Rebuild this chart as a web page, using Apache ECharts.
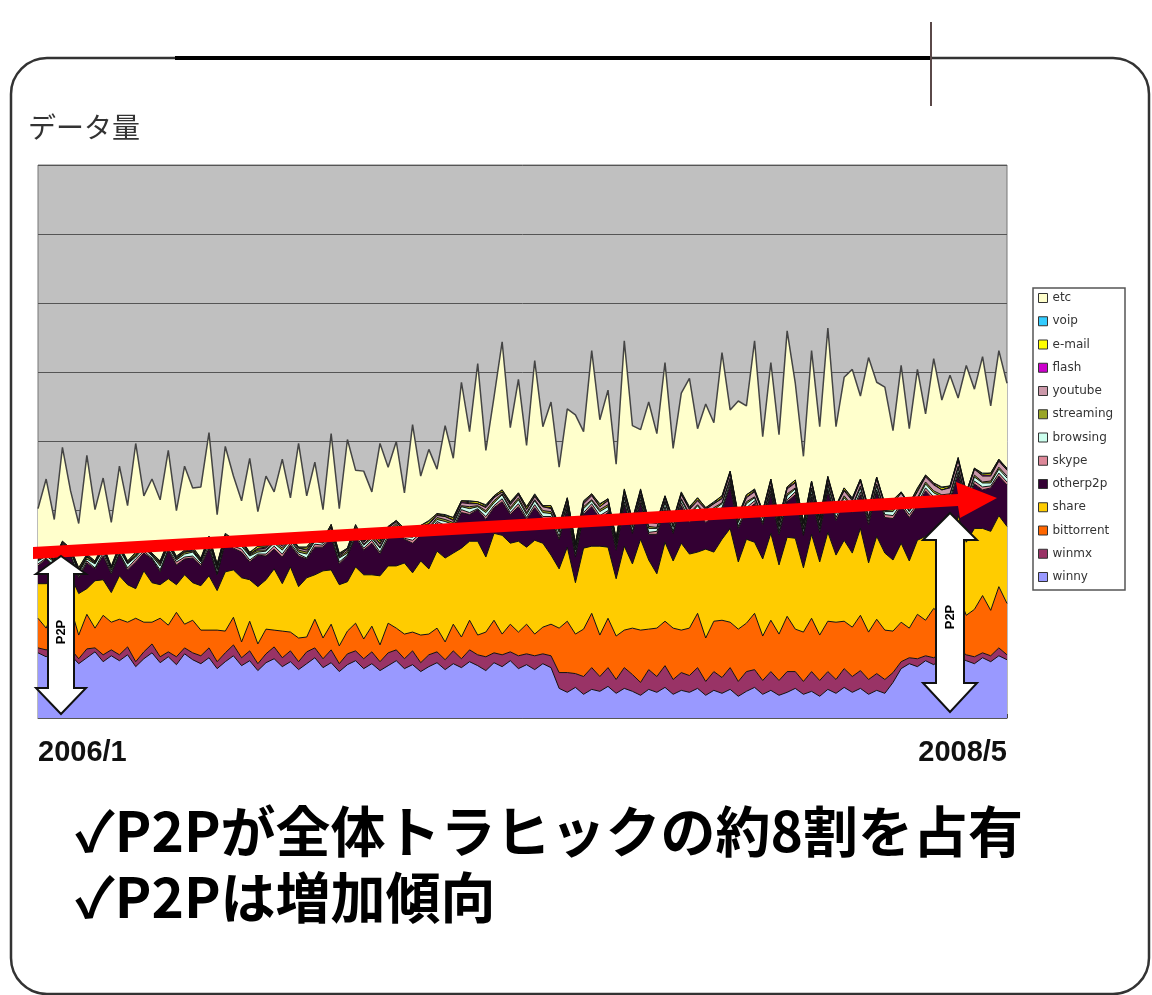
<!DOCTYPE html>
<html>
<head>
<meta charset="utf-8">
<title>データ量</title>
<script src="https://cdn.jsdelivr.net/npm/echarts@6/dist/echarts.min.js"></script>
<style>
  html, body { margin: 0; padding: 0; background: #fff; }
  #chart { width: 1152px; height: 995px; }
</style>
</head>
<body>
<div id="chart"></div>
<script>
// traffic per protocol, one value per sample (2006/1 .. 2008/5), stacked from winny up
const winny = [
  66, 62, 68, 58, 64, 55, 61, 67, 57, 63,
  58, 64, 52, 60, 66, 56, 62, 54, 65, 59,
  55, 61, 50, 57, 63, 53, 58, 48, 56, 60,
  52, 57, 49, 55, 61, 51, 56, 47, 54, 58,
  50, 55, 48, 53, 58, 50, 54, 47, 52, 56,
  49, 55, 51, 57, 53, 48, 56, 52, 58, 50,
  54, 49, 55, 51, 30, 26, 31, 24, 29, 27,
  32, 25, 30, 27, 23, 29, 26, 31, 24, 28,
  26, 30, 23, 28, 25, 29, 22, 27, 31, 24,
  28, 23, 26, 30, 24, 27, 22, 29, 25, 31,
  26, 30, 24, 28, 25, 36, 50, 55, 52, 58,
  54, 60, 56, 62, 58, 55, 61, 57, 63, 59
];
const winmx = [
  5, 7, 4, 8, 6, 5, 9, 4, 7, 6,
  6, 8, 5, 7, 9, 6, 5, 8, 6, 7,
  8, 10, 7, 9, 11, 8, 10, 7, 9, 12,
  9, 11, 8, 12, 10, 9, 13, 8, 11, 10,
  10, 12, 9, 13, 11, 10, 14, 9, 12, 11,
  10, 13, 9, 12, 11, 14, 10, 12, 9, 13,
  11, 14, 10, 12, 16, 20, 14, 18, 22, 15,
  19, 14, 21, 17, 13, 20, 16, 22, 15, 18,
  17, 21, 14, 19, 16, 22, 15, 20, 18, 14,
  19, 15, 21, 17, 13, 20, 16, 18, 14, 19,
  16, 18, 15, 17, 14, 10, 7, 6, 8, 5,
  7, 6, 5, 8, 6, 7, 5, 6, 8, 5
];
const bittorrent = [
  30, 22, 38, 26, 42, 24, 35, 20, 40, 28,
  36, 25, 44, 30, 22, 39, 27, 45, 24, 33,
  26, 18, 32, 22, 28, 16, 30, 20, 25, 17,
  27, 19, 24, 15, 29, 21, 26, 18, 23, 28,
  20, 26, 17, 30, 22, 25, 19, 28, 21, 24,
  18, 27, 22, 30, 20, 25, 33, 21, 28, 24,
  30, 22, 27, 32, 45, 52, 40, 48, 55, 42,
  50, 44, 38, 47, 53, 41, 49, 45, 52, 43,
  48, 55, 44, 51, 58, 46, 53, 49, 57, 45,
  52, 47, 56, 43, 50, 54, 46, 51, 58, 48,
  50, 56, 48, 55, 50, 42, 40, 30, 45, 36,
  50, 38, 44, 55, 40, 48, 58, 46, 62, 52
];
const share = [
  35, 45, 28, 50, 32, 42, 26, 48, 36, 30,
  44, 38, 30, 52, 40, 34, 47, 28, 50, 38,
  45, 55, 40, 60, 48, 65, 42, 58, 50, 62,
  48, 66, 52, 60, 45, 68, 55, 62, 50, 57,
  65, 52, 70, 58, 63, 72, 60, 75, 66, 78,
  85, 72, 90, 80, 95, 76, 88, 100, 82, 92,
  78, 95, 85, 70, 60, 75, 52, 82, 68, 90,
  72, 58, 85, 65, 92, 70, 55, 80, 68, 88,
  75, 62, 90, 70, 82, 95, 68, 85, 72, 78,
  88, 70, 80, 92, 65, 85, 74, 90, 68, 82,
  75, 88, 70, 84, 78, 72, 80, 68, 75, 85,
  70, 78, 66, 80, 74, 82, 68, 80, 72, 78
];
const otherp2p = [
  18, 25, 14, 28, 20, 16, 26, 12, 24, 19,
  22, 15, 27, 18, 24, 13, 29, 20, 16, 25,
  20, 28, 16, 30, 22, 26, 18, 32, 24, 20,
  27, 22, 31, 19, 28, 24, 33, 21, 26, 30,
  25, 32, 22, 28, 35, 24, 30, 26, 34, 28,
  30, 24, 36, 27, 32, 38, 26, 34, 29, 35,
  28, 33, 25, 36, 30, 38, 26, 34, 40, 28,
  35, 29, 42, 31, 37, 26, 40, 33, 28, 38,
  32, 41, 27, 36, 30, 43, 34, 29, 39, 35,
  40, 31, 36, 44, 33, 38, 30, 42, 35, 37,
  41, 34, 39, 45, 36, 42, 38, 44, 35, 46,
  40, 37, 48, 41, 36, 45, 39, 44, 40, 42
];
const skype = [
  2,1,2,3,1,2,2,1,3,2, 1,2,3,2,1,2,1,3,2,2, 2,3,1,2,2,3,2,1,2,3,
  3,2,2,1,3,2,3,2,1,2, 2,3,2,3,2,1,3,2,3,2, 3,2,3,2,1,3,2,3,2,3,
  2,3,2,3,3,2,3,2,3,3, 2,3,3,2,3,2,3,3,2,3, 3,2,3,3,2,3,2,3,3,2,
  3,3,2,3,2,3,3,2,3,3, 2,3,3,2,3,3,2,3,2,3, 3,2,3,3,2,3,3,2,3,3
];
const browsing = [
  3,2,4,2,3,3,2,4,3,2, 3,4,2,3,2,4,3,2,3,4, 2,3,4,3,2,3,4,2,3,3,
  4,3,2,4,3,2,3,4,2,3, 3,2,4,3,4,2,3,3,4,2, 4,3,3,4,2,4,3,4,3,4,
  3,4,4,3,4,3,4,4,3,4, 4,3,4,4,3,4,3,4,4,3, 4,4,3,4,4,3,4,4,3,4,
  3,4,4,3,4,4,3,4,4,3, 4,4,3,4,3,4,4,3,4,4, 4,3,4,4,3,4,4,3,4,4
];
const streaming = [
  1,2,1,1,2,1,2,1,1,2, 2,1,1,2,1,2,1,1,2,1, 1,2,2,1,1,2,1,2,1,2,
  2,1,2,2,1,1,2,1,2,2, 1,2,1,2,2,1,2,2,1,2, 2,2,1,2,1,2,2,1,2,2,
  2,1,2,2,2,1,2,2,1,2, 2,2,1,2,2,2,1,2,2,1, 2,1,2,2,1,2,2,2,1,2,
  2,2,2,1,2,2,1,2,2,2, 1,2,2,2,1,2,2,1,2,2, 2,2,1,2,2,2,1,2,2,2
];
const youtube = [
  0,1,0,1,0,1,1,0,1,0, 1,0,1,1,0,1,1,1,0,1, 1,1,2,1,1,2,1,1,2,1,
  2,1,2,2,1,2,2,1,2,2, 2,2,3,2,2,3,2,2,3,2, 3,2,3,3,2,3,3,2,3,3,
  3,3,4,3,3,4,3,3,4,3, 4,3,4,4,3,4,4,3,4,4, 4,4,5,4,4,5,4,4,5,4,
  5,4,5,5,4,5,5,4,5,5, 5,5,6,5,5,6,5,5,6,5, 6,5,6,6,5,6,6,5,6,6
];
const flash = [
  1,0,1,1,0,1,0,1,1,0, 1,1,0,1,0,1,1,0,1,1, 0,1,1,0,1,1,0,1,1,0,
  1,1,0,1,1,0,1,1,0,1, 1,0,1,1,0,1,1,0,1,1, 0,1,1,1,0,1,1,0,1,1,
  1,1,0,1,1,1,0,1,1,0, 1,0,1,1,1,0,1,1,0,1, 1,1,1,0,1,1,0,1,1,1,
  0,1,1,1,0,1,1,1,0,1, 1,1,0,1,1,1,0,1,1,1, 1,0,1,1,1,0,1,1,1,0
];
const email = [
  1,2,1,1,1,2,1,1,2,1, 1,1,2,1,1,1,2,1,1,2, 1,2,1,1,2,1,1,2,1,1,
  2,1,1,2,1,1,2,1,1,2, 1,1,2,1,1,2,1,1,2,1, 1,2,1,1,2,1,1,2,1,1,
  2,1,1,2,1,1,2,1,1,2, 1,1,2,1,1,2,1,1,2,1, 1,2,1,1,2,1,1,2,1,1,
  2,1,1,2,1,1,2,1,1,2, 1,1,2,1,1,2,1,1,2,1, 1,2,1,1,2,1,1,2,1,1
];
const voip = [
  0,1,0,0,1,0,1,0,0,1, 0,0,1,0,1,0,0,1,0,0, 1,0,0,1,0,0,1,0,1,0,
  0,1,0,0,1,0,0,1,0,1, 0,0,1,0,0,1,0,0,1,0, 1,0,0,1,0,1,0,0,1,0,
  0,1,0,0,1,0,0,1,0,1, 0,0,1,0,1,0,1,0,0,1, 1,0,0,1,0,0,1,0,1,0,
  0,1,0,0,1,0,0,1,0,0, 1,0,1,0,0,1,0,0,1,0, 0,1,0,1,0,0,1,0,0,1
];
const etc = [
  50, 72, 40, 95, 58, 45, 100, 52, 68, 44,
  80, 56, 110, 48, 75, 62, 92, 46, 85, 60,
  72, 105, 50, 88, 64, 40, 95, 35, 70, 48,
  85, 38, 105, 52, 75, 30, 92, 45, 110, 55,
  70, 42, 98, 60, 80, 36, 108, 50, 72, 45,
  90, 60, 120, 70, 140, 55, 100, 150, 75, 115,
  62, 135, 80, 105, 58, 90, 130, 70, 145, 85,
  110, 75, 150, 95, 60, 120, 88, 135, 72, 100,
  130, 70, 105, 80, 145, 62, 115, 90, 150, 75,
  118, 85, 158, 98, 66, 132, 92, 150, 80, 112,
  130, 84, 152, 96, 118, 70, 128, 76, 120, 62,
  126, 88, 112, 60, 128, 80, 118, 68, 110, 86
];
const samples = winny.map((v, i) => String(i));
const monthCount = 28; // 2006/1 -> 2008/5
const tickLabels = ['2006/1', '2008/5'];

// bottom of stack first
const layers = [
  ['winny', winny, '#9999ff'],
  ['winmx', winmx, '#993366'],
  ['bittorrent', bittorrent, '#ff6600'],
  ['share', share, '#ffcc00'],
  ['otherp2p', otherp2p, '#330033'],
  ['skype', skype, '#dd8899'],
  ['browsing', browsing, '#ccffee'],
  ['streaming', streaming, '#99a526'],
  ['youtube', youtube, '#cc99aa'],
  ['flash', flash, '#cc00cc'],
  ['e-mail', email, '#ffff00'],
  ['voip', voip, '#33ccff'],
  ['etc', etc, '#ffffcc']
];

function doubleArrow(cx, top, headTop, headBottom, bottom, shaftHalf, headHalf) {
  return [
    [cx, top], [cx + headHalf, headTop], [cx + shaftHalf, headTop],
    [cx + shaftHalf, headBottom], [cx + headHalf, headBottom], [cx, bottom],
    [cx - headHalf, headBottom], [cx - shaftHalf, headBottom],
    [cx - shaftHalf, headTop], [cx - headHalf, headTop]
  ];
}

const myChart = echarts.init(document.getElementById('chart'));
myChart.setOption({
  animation: false,
  backgroundColor: '#fff',
  textStyle: { fontFamily: '"Noto Sans CJK JP", sans-serif' },
  grid: {
    left: 38, top: 165, width: 969, height: 553,
    show: true, backgroundColor: '#c0c0c0', borderColor: '#777', borderWidth: 1,
    outerBoundsMode: 'none'
  },
  xAxis: [
    { type: 'category', data: samples, boundaryGap: false, show: false },
    {
      type: 'value', min: 0, max: monthCount, interval: 1, position: 'bottom',
      axisLine: { show: true, lineStyle: { color: '#555' } },
      axisTick: { show: true, inside: true, length: 4, lineStyle: { color: '#444' } },
      splitLine: { show: false },
      axisLabel: {
        margin: 20,
        fontSize: 29, fontWeight: 'bold', color: '#111',
        fontFamily: '"Liberation Sans", Arial, sans-serif',
        alignMinLabel: 'left', alignMaxLabel: 'right',
        formatter: v => v === 0 ? tickLabels[0] : (v === monthCount ? tickLabels[1] : '')
      }
    }
  ],
  yAxis: {
    type: 'value', min: 0, max: 560, interval: 70,
    axisLabel: { show: false }, axisTick: { show: false }, axisLine: { show: false },
    splitLine: { lineStyle: { color: '#555', width: 1 } }
  },
  legend: {
    orient: 'vertical', left: 1038, top: 291, padding: 0,
    itemWidth: 9, itemHeight: 9, itemGap: 9.25, icon: 'rect',
    selectedMode: false,
    textStyle: { fontSize: 12, lineHeight: 14, color: '#333', fontFamily: '"DejaVu Sans", sans-serif' },
    data: layers.slice().reverse().map(([name, , color]) => ({
      name, itemStyle: { color, borderColor: '#333', borderWidth: 1 }
    }))
  },
  series: layers.map(([name, data, color]) => ({
    name, type: 'line', stack: 'traffic', data,
    xAxisIndex: 0, symbol: 'none',
    lineStyle: name === 'etc' ? { color: '#444', width: 1.5 } : { color: '#111', width: 1 },
    areaStyle: { color, opacity: 1 },
    emphasis: { disabled: true }
  })),
  graphic: [
    // slide frame
    { type: 'rect', z: -10, silent: true,
      shape: { x: 11, y: 58, width: 1138, height: 936, r: 36 },
      style: { fill: '#fff', stroke: '#333', lineWidth: 2.5 } },
    { type: 'rect', z: -9, silent: true,
      shape: { x: 175, y: 10, width: 757, height: 96 },
      style: { fill: '#fff' } },
    { type: 'line', z: -8, silent: true,
      shape: { x1: 175, y1: 58, x2: 932, y2: 58 },
      style: { stroke: '#000', lineWidth: 4 } },
    { type: 'line', z: -8, silent: true,
      shape: { x1: 931, y1: 22, x2: 931, y2: 106 },
      style: { stroke: '#5a4848', lineWidth: 2 } },
    { type: 'text', left: 28, top: 113,
      style: { text: 'データ量', fontSize: 28, fill: '#333', fontFamily: '"Noto Sans CJK JP", sans-serif' } },
    // legend frame
    { type: 'rect', z: 1, silent: true,
      shape: { x: 1033, y: 288, width: 92, height: 302 },
      style: { fill: '#fff', stroke: '#555', lineWidth: 1.5 } },
    // trend arrow
    { type: 'polygon', z: 100, silent: true,
      shape: { points: [[33, 547], [958, 494], [956, 482], [997, 498], [960, 518], [958, 506], [33, 559]] },
      style: { fill: '#ff0000' } },
    // P2P share arrows
    { type: 'polygon', z: 100, silent: true,
      shape: { points: doubleArrow(61, 556, 574, 688, 714, 13, 25) },
      style: { fill: '#fff', stroke: '#111', lineWidth: 2 } },
    { type: 'polygon', z: 100, silent: true,
      shape: { points: doubleArrow(950, 513, 540, 683, 712, 14, 27) },
      style: { fill: '#fff', stroke: '#111', lineWidth: 2 } },
    { type: 'text', z: 101, x: 61, y: 632, rotation: Math.PI / 2,
      style: { text: 'P2P', fontSize: 13, fontWeight: 'bold', fill: '#000', align: 'center', verticalAlign: 'middle',
        fontFamily: '"Liberation Sans", Arial, sans-serif' } },
    { type: 'text', z: 101, x: 950, y: 617, rotation: Math.PI / 2,
      style: { text: 'P2P', fontSize: 13, fontWeight: 'bold', fill: '#000', align: 'center', verticalAlign: 'middle',
        fontFamily: '"Liberation Sans", Arial, sans-serif' } },
    // conclusions
    { type: 'text', x: 75, y: 831,
      style: { text: '✓P2Pが全体トラヒックの約8割を占有', fontSize: 55, fontWeight: 'bold', fill: '#000',
        verticalAlign: 'middle', fontFamily: '"Noto Sans CJK JP", sans-serif' } },
    { type: 'text', x: 75, y: 897,
      style: { text: '✓P2Pは増加傾向', fontSize: 55, fontWeight: 'bold', fill: '#000',
        verticalAlign: 'middle', fontFamily: '"Noto Sans CJK JP", sans-serif' } }
  ]
});
</script>
</body>
</html>
